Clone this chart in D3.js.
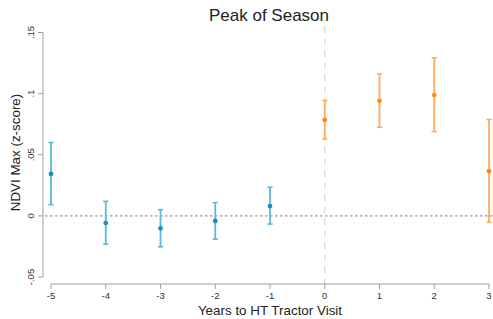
<!DOCTYPE html>
<html>
<head>
<meta charset="utf-8">
<script src="https://cdn.jsdelivr.net/npm/d3@7"></script>
<style>
  body { margin: 0; background: #fff; }
  svg { display: block; font-family: "Liberation Sans", Arial, sans-serif; }
</style>
</head>
<body>
<svg id="chart" width="493" height="319"></svg>
<script>
// Event-study estimates
const years = [-5, -4, -3, -2, -1, 0, 1, 2, 3];
const estimates = [0.0343, -0.0059, -0.0102, -0.0042, 0.0080, 0.0785, 0.0941, 0.0988, 0.0365];
const lower = [0.0092, -0.0231, -0.0253, -0.0190, -0.0067, 0.0630, 0.0725, 0.0690, -0.0053];
const upper = [0.0600, 0.0119, 0.0051, 0.0108, 0.0234, 0.0944, 0.1160, 0.1293, 0.0788];
const yTicks = [-0.05, 0, 0.05, 0.1, 0.15];
const yTickLabels = ["-.05", "0", ".05", ".1", ".15"];

const PRE = { line: "#5ab8d8", dot: "#1a8fc0" };
const POST = { line: "#ffab5c", dot: "#ff8c1a" };

const svg = d3.select("#chart");

const x = d3.scaleLinear().domain([-5, 3]).range([51, 489]);
const y = d3.scaleLinear().domain([-0.05, 0.15]).range([277, 32.5]);

const axisColor = "#a0a0a0";
const textColor = "#333";

// reference lines
svg.append("line")
  .attr("x1", 45).attr("x2", 493)
  .attr("y1", y(0)).attr("y2", y(0))
  .attr("stroke", "#b5b5b5").attr("stroke-width", 1.6)
  .attr("stroke-dasharray", "2.5,2.5");

svg.append("line")
  .attr("x1", x(0)).attr("x2", x(0))
  .attr("y1", 26).attr("y2", 284)
  .attr("stroke", "#d4d4d4").attr("stroke-width", 1)
  .attr("stroke-dasharray", "7,5");

// y axis
const yAxis = svg.append("g").attr("transform", "translate(43,0)");
yAxis.append("line")
  .attr("y1", y(0.15)).attr("y2", y(-0.05))
  .attr("stroke", axisColor);
yTicks.forEach((t, i) => {
  yAxis.append("line")
    .attr("x1", -5).attr("x2", 0)
    .attr("y1", y(t)).attr("y2", y(t))
    .attr("stroke", axisColor);
  yAxis.append("text")
    .attr("transform", `translate(-9,${y(t)}) rotate(-90)`)
    .attr("text-anchor", "middle")
    .attr("font-size", 9.5)
    .attr("fill", textColor)
    .text(yTickLabels[i]);
});

// x axis
const xAxis = svg.append("g").attr("transform", "translate(0,284)");
xAxis.append("line")
  .attr("x1", x(-5)).attr("x2", x(3))
  .attr("stroke", axisColor);
years.forEach((t) => {
  xAxis.append("line")
    .attr("x1", x(t)).attr("x2", x(t))
    .attr("y1", 0).attr("y2", 5)
    .attr("stroke", axisColor);
  xAxis.append("text")
    .attr("x", x(t)).attr("y", 15)
    .attr("text-anchor", "middle")
    .attr("font-size", 9.5)
    .attr("fill", textColor)
    .text(t);
});

// error bars
const pts = years.map((yr, i) => ({ yr, est: estimates[i], lo: lower[i], hi: upper[i], c: yr < 0 ? PRE : POST }));
const capW = 2.6;
const bars = svg.append("g").selectAll("g").data(pts).join("g");
bars.append("line")
  .attr("x1", (d) => x(d.yr)).attr("x2", (d) => x(d.yr))
  .attr("y1", (d) => y(d.lo)).attr("y2", (d) => y(d.hi))
  .attr("stroke", (d) => d.c.line).attr("stroke-width", 1.8);
bars.selectAll(".cap")
  .data((d) => [d.lo, d.hi].map((v) => ({ v, d })))
  .join("line")
  .attr("x1", (e) => x(e.d.yr) - capW).attr("x2", (e) => x(e.d.yr) + capW)
  .attr("y1", (e) => y(e.v)).attr("y2", (e) => y(e.v))
  .attr("stroke", (e) => e.d.c.line).attr("stroke-width", 1.6);
bars.append("circle")
  .attr("cx", (d) => x(d.yr)).attr("cy", (d) => y(d.est))
  .attr("r", 2.4)
  .attr("fill", (d) => d.c.dot);

// titles
svg.append("text")
  .attr("x", 269).attr("y", 21)
  .attr("text-anchor", "middle")
  .attr("font-size", 17)
  .attr("fill", "#222")
  .text("Peak of Season");

svg.append("text")
  .attr("x", 270).attr("y", 315)
  .attr("text-anchor", "middle")
  .attr("font-size", 13.4)
  .attr("fill", "#222")
  .text("Years to HT Tractor Visit");

svg.append("text")
  .attr("transform", "translate(20,152.5) rotate(-90)")
  .attr("text-anchor", "middle")
  .attr("font-size", 13.4)
  .attr("fill", "#222")
  .text("NDVI Max (z-score)");
</script>
</body>
</html>
